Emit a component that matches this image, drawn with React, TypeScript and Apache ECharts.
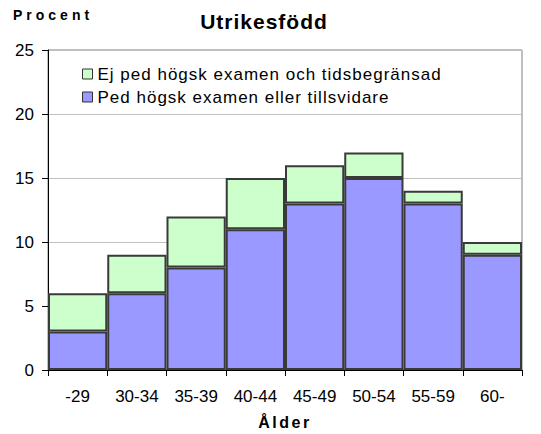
import React, { useEffect, useRef } from "react";
import * as echarts from "echarts";

const categories = ["-29", "30-34", "35-39", "40-44", "45-49", "50-54", "55-59", "60-"];
const pedValues = [3, 6, 8, 11, 13, 15, 13, 9];
const ejPedValues = [3, 3, 4, 4, 3, 2, 1, 1];
const seriesNames = ["Ej ped högsk examen och tidsbegränsad", "Ped högsk examen eller tillsvidare"];
const yTicks = { min: 0, max: 25, interval: 5 };

export default function App() {
  const ref = useRef<HTMLDivElement>(null);
  useEffect(() => {
    if (!ref.current) return;
    const chart = echarts.init(ref.current, null, { renderer: "svg" });
    const font = "Liberation Sans, Arial, sans-serif";
    chart.setOption({
      animation: false,
      backgroundColor: "#ffffff",
      grid: {
        left: 48,
        right: 19,
        top: 50,
        bottom: 64,
        show: true,
        borderColor: "#808080",
        borderWidth: 1,
      },
      legend: {
        orient: "vertical",
        left: 82,
        top: 65,
        padding: 0,
        itemWidth: 10,
        itemHeight: 10,
        itemGap: 5,
        icon: "rect",
        data: [seriesNames[0], seriesNames[1]],
        itemStyle: { borderColor: "#333333", borderWidth: 1 },
        textStyle: { fontSize: 17, lineHeight: 18, color: "#000", fontFamily: "Liberation Sans, spl1" },
      },
      xAxis: {
        type: "category",
        data: categories,
        axisLine: { show: true, lineStyle: { color: "#000", width: 1 } },
        axisTick: { show: true, alignWithLabel: false, length: 6, lineStyle: { color: "#000" } },
        axisLabel: { fontSize: 17, color: "#000", margin: 18, fontFamily: font },
        splitLine: { show: false },
      },
      yAxis: {
        type: "value",
        min: yTicks.min,
        max: yTicks.max,
        interval: yTicks.interval,
        axisLine: { show: true, lineStyle: { color: "#000", width: 1 } },
        axisTick: { show: true, length: 6, lineStyle: { color: "#000" } },
        axisLabel: { fontSize: 17, color: "#000", margin: 14, fontFamily: font },
        splitLine: { show: true, lineStyle: { color: "#c0c0c0", width: 1 } },
      },
      series: [
        {
          name: seriesNames[1],
          type: "bar",
          stack: "total",
          data: pedValues,
          barWidth: "100%",
          barCategoryGap: "0%",
          itemStyle: { color: "#9999ff", borderColor: "#3a3a3a", borderWidth: 2 },
        },
        {
          name: seriesNames[0],
          type: "bar",
          stack: "total",
          data: ejPedValues,
          barWidth: "100%",
          barCategoryGap: "0%",
          itemStyle: { color: "#ccffcc", borderColor: "#3a3a3a", borderWidth: 2 },
        },
      ],
      graphic: [
        {
          type: "text",
          left: 13,
          top: 8,
          style: { text: "Procent", fontSize: 14, fontWeight: "bold", fontFamily: "Liberation Sans, spl4", fill: "#000" },
        },
        {
          type: "text",
          x: 264,
          y: 21,
          style: {
            text: "Utrikesfödd",
            fontSize: 21,
            fontWeight: "bold",
            fontFamily: "Liberation Sans, spl1",
            fill: "#000",
            align: "center",
            verticalAlign: "middle",
          },
        },
        {
          type: "text",
          x: 285,
          y: 422,
          style: {
            text: "Ålder",
            fontSize: 16,
            fontWeight: "bold",
            fontFamily: "Liberation Sans, spl25",
            fill: "#000",
            align: "center",
            verticalAlign: "middle",
          },
        },
      ],
    });
    return () => chart.dispose();
  }, []);
  return (
    <>
      <style>{`
        body { margin: 0; }
        text[style*="spl4"] { letter-spacing: 4px; }
        text[style*="spl25"] { letter-spacing: 2.5px; }
        text[style*="spl1"] { letter-spacing: 1px; }
      `}</style>
      <div ref={ref} style={{ width: 541, height: 434 }} />
    </>
  );
}
